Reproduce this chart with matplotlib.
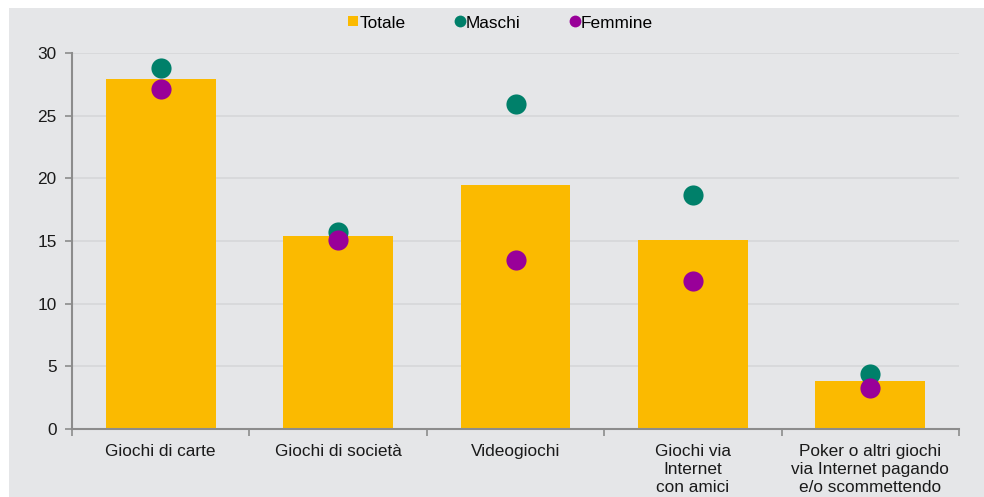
import numpy as np
import matplotlib.pyplot as plt
from matplotlib.lines import Line2D
from matplotlib.patches import Rectangle

plt.rcParams['font.family'] = ['Liberation Sans', 'DejaVu Sans']

categorie = ["Giochi di carte", "Giochi di società", "Videogiochi",
             "Giochi via\nInternet\ncon amici",
             "Poker o altri giochi\nvia Internet pagando\ne/o scommettendo"]
totale = [27.9, 15.4, 19.5, 15.1, 3.8]
maschi = [28.8, 15.7, 25.9, 18.7, 4.4]
femmine = [27.1, 15.1, 13.5, 11.8, 3.3]

GIALLO = '#FBBA00'
VERDE = '#00806A'
VIOLA = '#990099'
SFONDO = '#E5E6E8'
FS = 12.4

fig = plt.figure(figsize=(9.84, 4.97), dpi=100, facecolor='white')
# fondo grigio (margine bianco sopra e a sinistra)
fig.patches.append(Rectangle((9 / 984, 0), 1, 1 - 8 / 497, transform=fig.transFigure,
                             facecolor=SFONDO, edgecolor='none', zorder=-5))

ax = fig.add_axes([72 / 984, 1 - 429 / 497, (959 - 72) / 984, (429 - 53) / 497])
ax.set_facecolor('none')

x = np.arange(len(categorie))
ax.bar(x, totale, width=0.62, color=GIALLO, zorder=2)
ax.plot(x, maschi, 'o', color=VERDE, markersize=14.5, markeredgewidth=0, zorder=3)
ax.plot(x, femmine, 'o', color=VIOLA, markersize=14.5, markeredgewidth=0, zorder=4)

ax.set_xlim(-0.5, len(categorie) - 0.5)
ax.set_ylim(0, 30)
ax.set_yticks(range(0, 31, 5))
ax.yaxis.grid(True, color='#D6D7D9', linewidth=1.2, zorder=1)
ax.set_axisbelow(True)

ax.set_xticks(x)
ax.set_xticklabels(categorie, fontsize=FS, color='#1a1a1a', linespacing=1.22)
ax.tick_params(axis='x', which='major', length=0, pad=11)
ax.set_xticks(np.arange(-0.5, len(categorie)), minor=True)
ax.tick_params(axis='x', which='minor', length=5, color='#8c8c8c', width=1.2)
ax.tick_params(axis='y', length=5, color='#8c8c8c', width=1.2, labelsize=FS,
               labelcolor='#1a1a1a', pad=6)

for s in ['top', 'right']:
    ax.spines[s].set_visible(False)
for s in ['left', 'bottom']:
    ax.spines[s].set_color('#8c8c8c')
    ax.spines[s].set_linewidth(1.5)

handles = [
    Line2D([0], [0], marker='s', color='none', markerfacecolor=GIALLO, markeredgewidth=0,
           markersize=7.5, label='Totale'),
    Line2D([0], [0], marker='o', color='none', markerfacecolor=VERDE, markeredgewidth=0,
           markersize=8.5, label='Maschi'),
    Line2D([0], [0], marker='o', color='none', markerfacecolor=VIOLA, markeredgewidth=0,
           markersize=8.5, label='Femmine'),
]
fig.legend(handles=handles, loc='center', bbox_to_anchor=(501 / 984, 1 - 23 / 497), ncol=3,
           frameon=False, fontsize=FS, handlelength=0.5, handletextpad=0.1,
           columnspacing=2.9)

fig.savefig('out.png', dpi=100, facecolor='white')
